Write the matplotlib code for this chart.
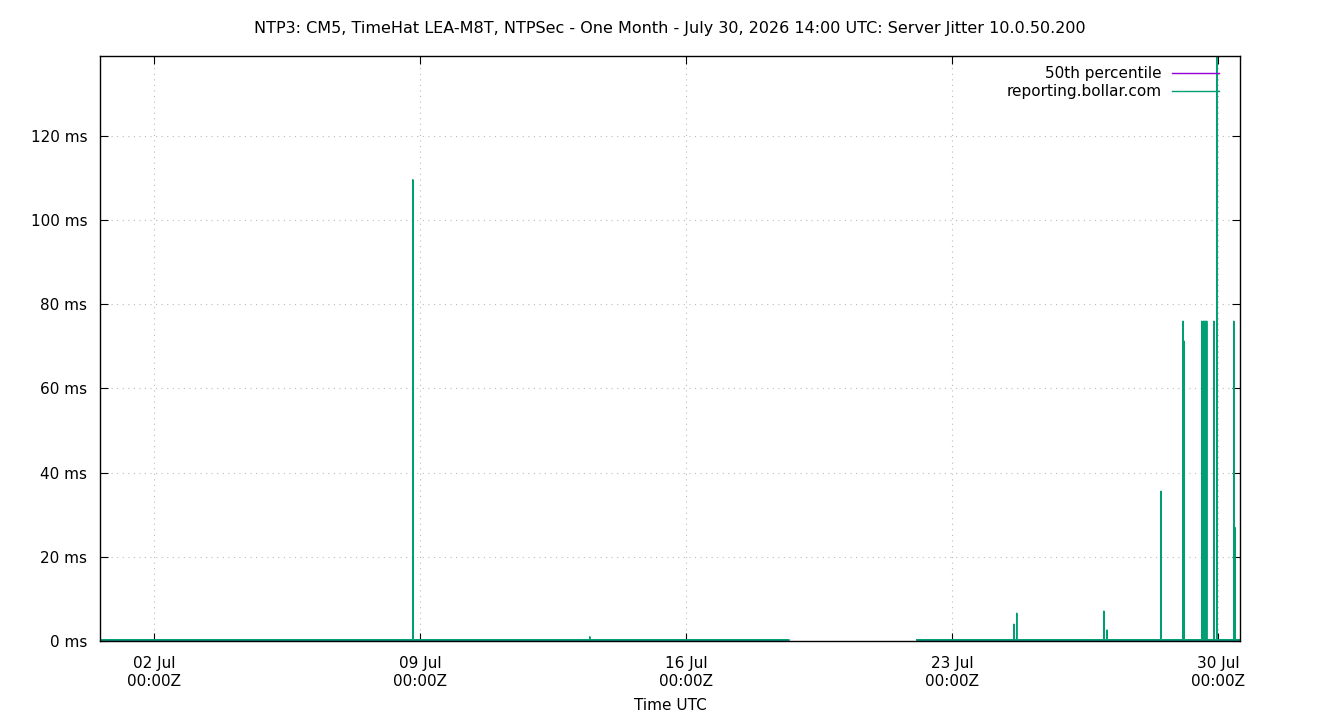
import matplotlib
matplotlib.use("Agg")
import matplotlib.pyplot as plt
import numpy as np
from datetime import datetime, timedelta

plt.rcParams['font.family'] = ['DejaVu Sans']

# window of the chart
t_start = datetime(2026, 6, 30, 14, 0)
t_end = datetime(2026, 7, 30, 14, 0)

# periods with data (gap between Jul 18 and Jul 22)
segments = [
    (datetime(2026, 6, 30, 14, 0), datetime(2026, 7, 18, 16, 20)),
    (datetime(2026, 7, 22, 1, 55), datetime(2026, 7, 30, 14, 0)),
]

baseline_ms = 0.3
median_ms = 0.3

# jitter spikes
spike_times = [
    datetime(2026, 7, 8, 19, 35),
    datetime(2026, 7, 13, 11, 20),
    datetime(2026, 7, 24, 15, 10),
    datetime(2026, 7, 24, 17, 0),
    datetime(2026, 7, 27, 0, 0),
    datetime(2026, 7, 27, 2, 0),
    datetime(2026, 7, 28, 12, 0),
    datetime(2026, 7, 29, 2, 0),
    datetime(2026, 7, 29, 2, 30),
    datetime(2026, 7, 29, 2, 45),
    datetime(2026, 7, 29, 13, 55),
    datetime(2026, 7, 29, 15, 10),
    datetime(2026, 7, 29, 16, 0),
    datetime(2026, 7, 29, 17, 0),
    datetime(2026, 7, 29, 21, 30),
    datetime(2026, 7, 29, 23, 20),
    datetime(2026, 7, 30, 10, 5),
    datetime(2026, 7, 30, 10, 45),
]
spike_ms = [109.6, 1.0, 4.0, 6.6, 7.1, 2.6, 35.6, 76.0, 71.3, 71.0,
            76.0, 76.0, 76.0, 76.0, 76.0, 150.0, 76.0, 27.0]

xtick_days = [datetime(2026, 7, 2), datetime(2026, 7, 9), datetime(2026, 7, 16),
              datetime(2026, 7, 23), datetime(2026, 7, 30)]
xtick_labels = ["02 Jul\n00:00Z", "09 Jul\n00:00Z", "16 Jul\n00:00Z",
                "23 Jul\n00:00Z", "30 Jul\n00:00Z"]
ytick_vals = [0, 20, 40, 60, 80, 100, 120]


def build_series(level, spikes=True):
    ts, vs = [], []
    step = timedelta(minutes=4)
    for a, b in segments:
        ts.append(a); vs.append(level)
        if spikes:
            for t, v in zip(spike_times, spike_ms):
                if a < t < b:
                    ts += [t - step, t, t + step]
                    vs += [level, v, level]
        ts.append(b); vs.append(level)
        ts.append(b + timedelta(minutes=1)); vs.append(np.nan)
    return ts, vs


fig = plt.figure(figsize=(13.4, 7.2), dpi=100)
ax = fig.add_axes([100/1340, 79/720, 1140/1340, 585/720])

mt, mv = build_series(median_ms, spikes=False)
jt, jv = build_series(baseline_ms)

ax.plot(mt, mv, color='#9400d3', lw=1.0, label='50th percentile')
ax.plot(jt, jv, color='#009e73', lw=1.0, label='reporting.bollar.com')
# noisy baseline band
bt, bv = build_series(baseline_ms, spikes=False)
ax.plot(bt, bv, color='#009e73', lw=2.0, alpha=0.8)

ax.set_xlim(t_start, t_end)
ax.set_ylim(0, 139)
ax.set_xticks(xtick_days)
ax.set_xticklabels(xtick_labels)
ax.set_yticks(ytick_vals)
ax.set_yticklabels([f"{v} ms" for v in ytick_vals])

ax.grid(True, color='#bbbbbb', linestyle=(0, (1, 4)), lw=0.8)
ax.tick_params(direction='in', top=True, right=True, length=6, labelsize=11)
ax.tick_params(axis='x', pad=11)
ax.tick_params(axis='y', pad=9)
for s in ax.spines.values():
    s.set_linewidth(1.0)

ax.set_xlabel("Time UTC", fontsize=11, labelpad=7)
fig.text(0.5, 1 - 29/720, "NTP3: CM5, TimeHat LEA-M8T, NTPSec - One Month - July 30, 2026 14:00 UTC: Server Jitter 10.0.50.200",
         ha='center', va='center', fontsize=11.5)

leg = ax.legend(loc='upper right', bbox_to_anchor=(1 - 21/1140, 1 - 10/585), frameon=False,
                markerfirst=False, fontsize=11, handlelength=3.1, handletextpad=0.65,
                labelspacing=0.2, borderaxespad=0.0, borderpad=0.0)

fig.savefig("out.png", dpi=100)
